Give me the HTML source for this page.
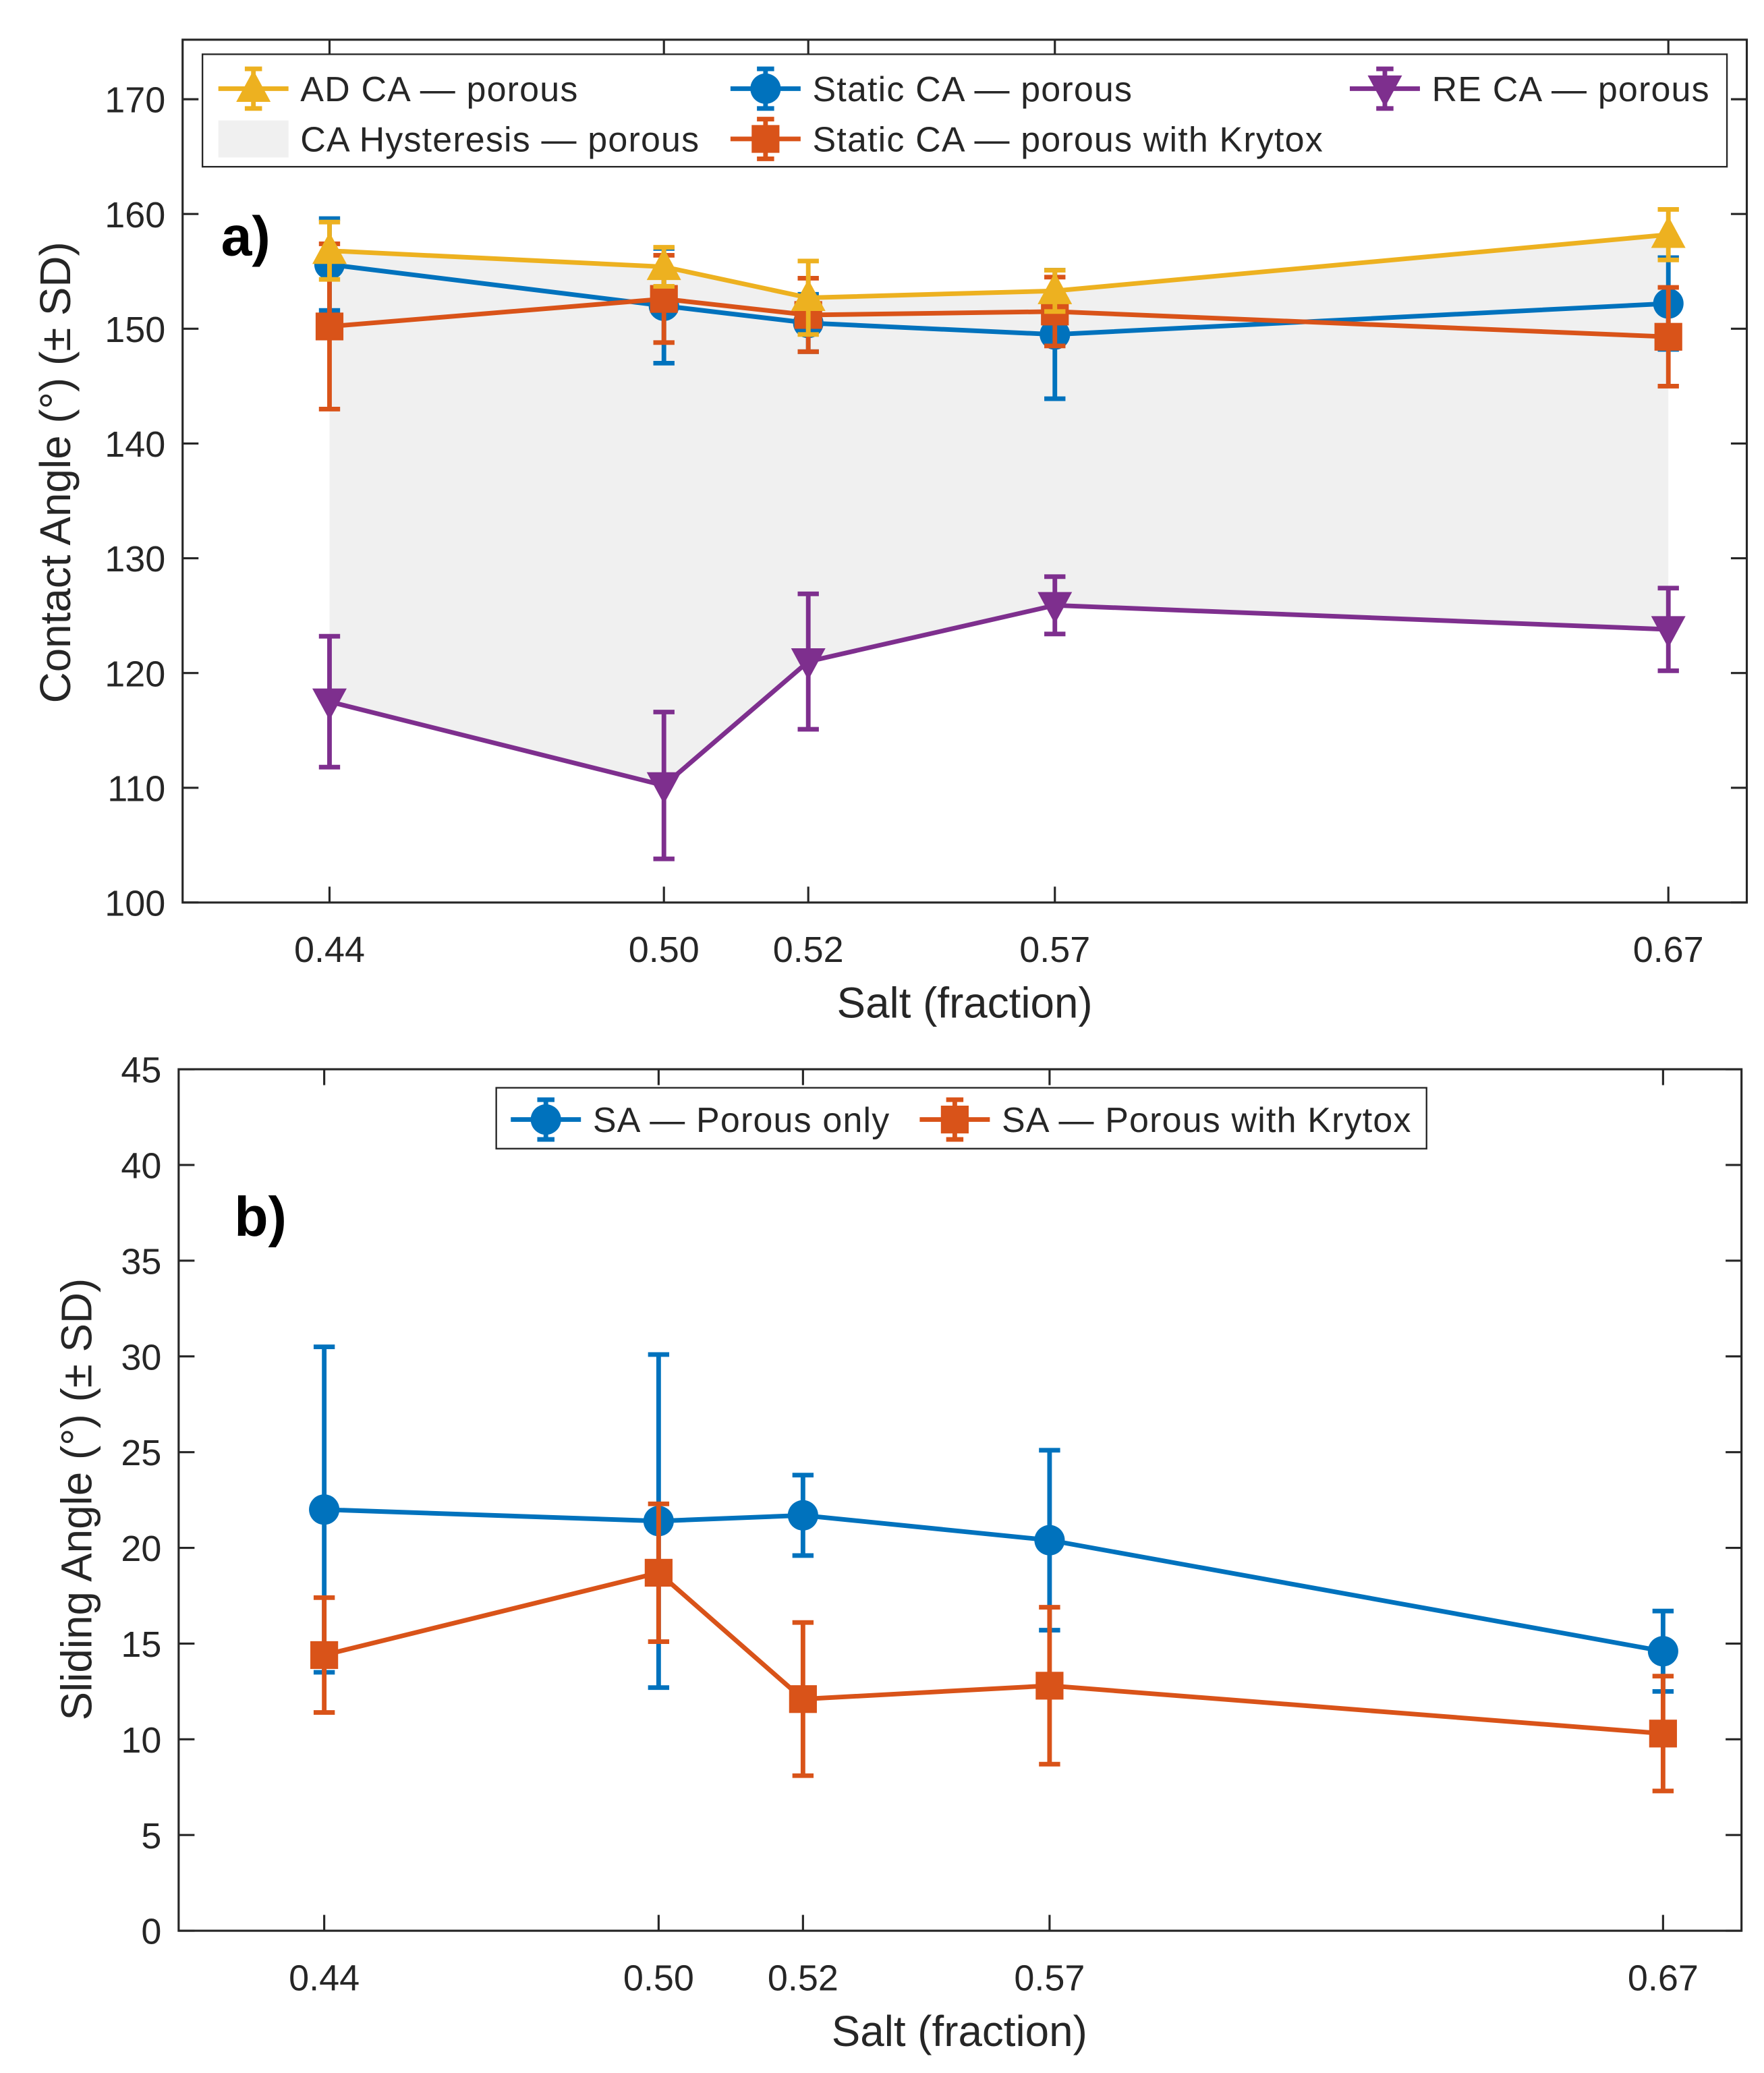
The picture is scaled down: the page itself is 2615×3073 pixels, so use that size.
<!DOCTYPE html>
<html><head><meta charset="utf-8"><style>
html,body{margin:0;padding:0;background:#fff}
svg{display:block}
text{font-family:"Liberation Sans",sans-serif;fill:#262626}
</style></head><body>
<svg id="chart" xmlns="http://www.w3.org/2000/svg" width="2615" height="3073" viewBox="0 0 1333 1566.5" preserveAspectRatio="none">
<rect width="1333" height="1566.5" fill="#fff"/>
<g id="pa"></g>
<g id="pb"></g>
</svg>
<script>
const xVals = [0.4444, 0.5, 0.524, 0.565, 0.667];
const xLabels = ["0.44","0.50","0.52","0.57","0.67"];
const adCA = [156.8, 155.4, 152.7, 153.3, 158.2];
const adErr = [2.5, 1.7, 3.2, 1.8, 2.2];
const staticCA = [155.6, 152.0, 150.5, 149.5, 152.2];
const staticErr = [4.0, 5.0, 2.5, 5.6, 4.0];
const krytoxCA = [150.2, 152.6, 151.2, 151.5, 149.3];
const krytoxErr = [7.2, 3.8, 3.2, 3.0, 4.3];
const reCA = [117.5, 110.2, 121.0, 125.9, 123.8];
const reErr = [5.7, 6.4, 5.9, 2.5, 3.6];
const yTicksA = [100,110,120,130,140,150,160,170];
const saPorous = [22.0, 21.4, 21.7, 20.4, 14.6];
const saPorousErr = [8.5, 8.7, 2.1, 4.7, 2.1];
const saKrytox = [14.4, 18.7, 12.1, 12.8, 10.3];
const saKrytoxErr = [3.0, 3.6, 4.0, 4.1, 3.0];
const yTicksB = [0,5,10,15,20,25,30,35,40,45];

const NS="http://www.w3.org/2000/svg";
const C={blue:"#0072BD",orange:"#D95319",yellow:"#EDB120",purple:"#7E2F8E"};
function el(tag,attrs,parent,txt){const e=document.createElementNS(NS,tag);for(const k in attrs)e.setAttribute(k,attrs[k]);if(txt!==undefined)e.textContent=txt;parent.appendChild(e);return e;}

function marker(g,type,cx,cy,color){
  let m;
  if(type==="circle") m=el("circle",{cx:cx,cy:cy,r:11.5,fill:color},g);
  else if(type==="square") m=el("rect",{x:cx-10.5,y:cy-10.5,width:21,height:21,fill:color},g);
  else if(type==="up") m=el("polygon",{points:`${cx},${cy-14} ${cx-13},${cy+10} ${cx+13},${cy+10}`,fill:color},g);
  else m=el("polygon",{points:`${cx},${cy+14} ${cx-13},${cy-10} ${cx+13},${cy-10}`,fill:color},g);
  return m;
}

function panel(g,o){
  const X=v=>o.x0+(v-0.4444)*4545;
  const Y=v=>o.bottom-(v-o.ymin)/(o.ymax-o.ymin)*(o.bottom-o.top0);
  if(o.fill){
    let pts=o.fill[0].map((v,i)=>X(xVals[i])+","+Y(v));
    pts=pts.concat(o.fill[1].map((v,i)=>X(xVals[i])+","+Y(v)).reverse());
    const f=el("polygon",{points:pts.join(" "),fill:"#f0f0f0"},g);
    
    
  }
  const ax=el("g",{},g);
  
  
  el("rect",{x:o.L,y:o.T,width:o.R-o.L,height:o.bottom-o.T,fill:"none",stroke:"#262626","stroke-width":1.6},ax);
  o.yt.forEach(t=>{const y=Y(t);
    el("line",{x1:o.L,x2:o.L+12,y1:y,y2:y,stroke:"#262626","stroke-width":1.6},ax);
    el("line",{x1:o.R,x2:o.R-12,y1:y,y2:y,stroke:"#262626","stroke-width":1.6},ax);
    const tx=el("text",{x:o.L-13,y:y+10,"text-anchor":"end","font-size":27.5},ax,String(t));
    
    
  });
  xVals.forEach((v,i)=>{const x=X(v);
    el("line",{x1:x,x2:x,y1:o.bottom,y2:o.bottom-12,stroke:"#262626","stroke-width":1.6},ax);
    el("line",{x1:x,x2:x,y1:o.T,y2:o.T+12,stroke:"#262626","stroke-width":1.6},ax);
    const tx=el("text",{x:x,y:o.bottom+45,"text-anchor":"middle","font-size":27.5},ax,xLabels[i]);
    
    
  });
  const xl=el("text",{x:o.xlx,y:o.xly,"text-anchor":"middle","font-size":32.5},g,"Salt (fraction)");
  
  
  const yl=el("text",{x:0,y:0,"text-anchor":"middle","font-size":32.5,transform:`translate(${o.ylx},${o.yly}) rotate(-90)`},g,o.ylabel);
  
  
  const pl=el("text",{x:o.plx,y:o.ply,"font-size":42,"font-weight":"bold",style:"fill:#000"},g,o.plabel);
  
  
  o.series.forEach(s=>{
    const sg=el("g",{},g);
    
    
    el("polyline",{points:s.v.map((v,i)=>X(xVals[i])+","+Y(v)).join(" "),fill:"none",stroke:s.c,"stroke-width":3.5},sg);
    s.v.forEach((v,i)=>{const x=X(xVals[i]),a=Y(v+s.e[i]),b=Y(v-s.e[i]);
      el("line",{x1:x,x2:x,y1:a,y2:b,stroke:s.c,"stroke-width":3.5},sg);
      el("line",{x1:x-8,x2:x+8,y1:a,y2:a,stroke:s.c,"stroke-width":3.5},sg);
      el("line",{x1:x-8,x2:x+8,y1:b,y2:b,stroke:s.c,"stroke-width":3.5},sg);
      const m=marker(sg,s.m,x,Y(v),s.c);
      
      
    });
  });
  const lg=el("g",{},g);
  
  
  el("rect",{x:o.lb[0],y:o.lb[1],width:o.lb[2],height:o.lb[3],fill:"#fff",stroke:"#262626","stroke-width":1.2},lg);
  o.legend.forEach(it=>{
    const eg=el("g",{},lg);
    
    
    if(it.m==="patch") el("rect",{x:it.x,y:it.y-14,width:53,height:28,fill:"#f0f0f0"},eg);
    else{
      el("line",{x1:it.x,x2:it.x+53,y1:it.y,y2:it.y,stroke:it.c,"stroke-width":3.5},eg);
      el("line",{x1:it.x+26.5,x2:it.x+26.5,y1:it.y-15,y2:it.y+15,stroke:it.c,"stroke-width":3.5},eg);
      el("line",{x1:it.x+20,x2:it.x+33,y1:it.y-15,y2:it.y-15,stroke:it.c,"stroke-width":3.5},eg);
      el("line",{x1:it.x+20,x2:it.x+33,y1:it.y+15,y2:it.y+15,stroke:it.c,"stroke-width":3.5},eg);
      marker(eg,it.m,it.x+26.5,it.y,it.c);
    }
    el("text",{x:it.x+62,y:it.y+9.5,"font-size":26.5,"letter-spacing":0.6},eg,it.t);
  });
}

panel(document.getElementById("pa"),{
  x0:249,L:138,R:1320,T:30,bottom:682,top0:75,ymin:100,ymax:170,yt:yTicksA,
  xlx:729,xly:769,ylx:53,yly:357,ylabel:"Contact Angle (°) (± SD)",plabel:"a)",plx:167,ply:193,
  fill:[adCA,reCA],
  series:[
    {name:"series-static-ca-porous",v:staticCA,e:staticErr,c:C.blue,m:"circle"},
    {name:"series-static-ca-krytox",v:krytoxCA,e:krytoxErr,c:C.orange,m:"square"},
    {name:"series-ad-ca-porous",v:adCA,e:adErr,c:C.yellow,m:"up"},
    {name:"series-re-ca-porous",v:reCA,e:reErr,c:C.purple,m:"down"}
  ],
  lb:[153,41,1152,85],
  legend:[
    {x:165,y:67,c:C.yellow,m:"up",t:"AD CA — porous"},
    {x:552,y:67,c:C.blue,m:"circle",t:"Static CA — porous"},
    {x:1020,y:67,c:C.purple,m:"down",t:"RE CA — porous"},
    {x:165,y:105,m:"patch",t:"CA Hysteresis — porous"},
    {x:552,y:105,c:C.orange,m:"square",t:"Static CA — porous with Krytox"}
  ]
});
panel(document.getElementById("pb"),{
  x0:245,L:135,R:1316,T:808,bottom:1459,top0:808,ymin:0,ymax:45,yt:yTicksB,
  xlx:725,xly:1546,ylx:69,yly:1133,ylabel:"Sliding Angle (°) (± SD)",plabel:"b)",plx:177,ply:934,
  series:[
    {name:"series-sa-porous",v:saPorous,e:saPorousErr,c:C.blue,m:"circle"},
    {name:"series-sa-krytox",v:saKrytox,e:saKrytoxErr,c:C.orange,m:"square"}
  ],
  lb:[375,822,703,46],
  legend:[
    {x:386,y:846,c:C.blue,m:"circle",t:"SA — Porous only"},
    {x:695,y:846,c:C.orange,m:"square",t:"SA — Porous with Krytox"}
  ]
});
</script>
</body></html>
